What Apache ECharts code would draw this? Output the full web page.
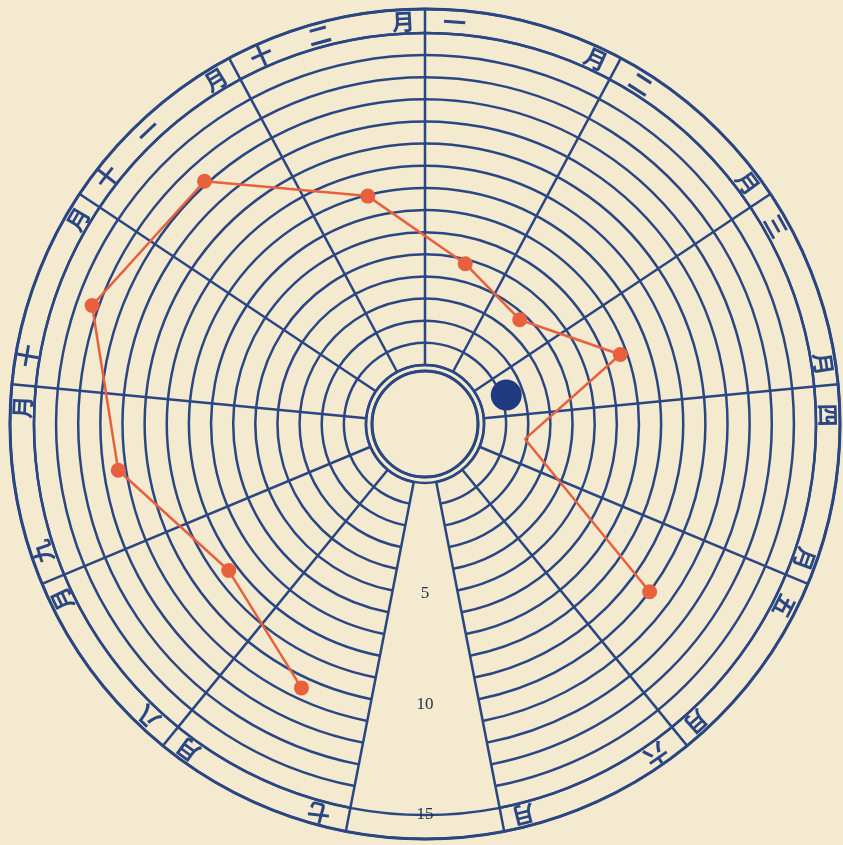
<!DOCTYPE html>
<html>
<head>
<meta charset="utf-8">
<script src="https://cdn.jsdelivr.net/npm/echarts@6/dist/echarts.min.js"></script>
<style>
html,body{margin:0;padding:0;background:#f3eacf;}
#c{width:843px;height:845px;}
</style>
</head>
<body>
<div id="c"></div>
<script>
// Months in the order the chart runs clockwise, starting just left of the blank wedge
const months = ['七月','八月','九月','十月','十一月','十二月','一月','二月','三月','四月','五月','六月'];
// Red line values (ring units), 六月 has no value
const values = [10.5, 8.4, 11.35, 13.3, 12.15, 7.95, 4.8, 3.7, 6.7, 1.9, 10.0, null];
// Months whose point is drawn without a dot
const noDotMonths = ['四月'];
// Large blue dot
const blueDotMonth = '三月';
const blueDotValue = 1.23;
// Radius labels shown in the blank wedge
const radiusTickValues = [5, 10, 15];
const radiusTickLabels = ['5', '10', '15'];

const BLUE = '#2a4683';
const RED = '#e8603e';
const CX = 425, CY = 424;
const R_IN = 53, R0 = 59, R15 = 391, R_OUT = 415;
const START = 259, END = -79;

// month label characters placed along the outer band
const charItems = [];
months.forEach((m, i) => {
  const num = m.replace('月', '');
  charItems.push({ t: num[0], a: i + 0.15 });
  if (num.length > 1) charItems.push({ t: num[1], a: i + 0.46 });
  charItems.push({ t: '月', a: i + 1 - 0.11 });
});

const lineData = values.map((v, i) => {
  if (v == null) return null;
  const item = { value: [v, i + 0.5] };
  if (noDotMonths.includes(months[i])) item.symbol = 'none';
  return item;
});

const gridLine = { show: true, lineStyle: { color: BLUE, width: 2.5 } };

const chart = echarts.init(document.getElementById('c'), null, { renderer: 'canvas' });
chart.setOption({
  backgroundColor: '#f3eacf',
  animation: false,
  polar: [
    { center: [CX, CY], radius: [R0, R15] },
    { center: [CX, CY], radius: [R15, R_OUT] },
    { center: [CX, CY], radius: [R_IN, R_OUT] },
    { center: [CX, CY], radius: [R0, R15] }
  ],
  angleAxis: [
    { polarIndex: 0, type: 'value', min: 0, max: 12, interval: 1, startAngle: START, endAngle: END, clockwise: true,
      axisLine: gridLine, axisTick: { show: false }, axisLabel: { show: false }, splitLine: gridLine },
    { polarIndex: 1, type: 'value', min: 0, max: 12, interval: 1, startAngle: START, endAngle: END, clockwise: true,
      axisLine: { show: false }, axisTick: { show: false }, axisLabel: { show: false }, splitLine: gridLine },
    { polarIndex: 2, type: 'value', min: 0, max: 1, startAngle: 90, clockwise: true,
      axisLine: { show: true, lineStyle: { color: BLUE, width: 3 } }, axisTick: { show: false }, axisLabel: { show: false }, splitLine: { show: false } },
    { polarIndex: 3, type: 'value', min: 0, max: 360, startAngle: 270, clockwise: true, show: false }
  ],
  radiusAxis: [
    { polarIndex: 0, type: 'value', min: 0, max: 15, interval: 1,
      axisLine: { show: false }, axisTick: { show: false }, axisLabel: { show: false }, splitLine: gridLine },
    { polarIndex: 1, type: 'value', min: 0, max: 1, show: false },
    { polarIndex: 2, type: 'value', min: 0, max: 1, interval: 1,
      axisLine: { show: false }, axisTick: { show: false }, axisLabel: { show: false }, splitLine: gridLine },
    { polarIndex: 3, type: 'value', min: 0, max: 15, show: false }
  ],
  series: [
    {
      type: 'line', coordinateSystem: 'polar', polarIndex: 0,
      data: lineData, connectNulls: false,
      symbol: 'circle', symbolSize: 15,
      lineStyle: { color: RED, width: 2.5 },
      itemStyle: { color: RED, opacity: 1 },
      z: 5
    },
    {
      type: 'scatter', coordinateSystem: 'polar', polarIndex: 0,
      data: [[blueDotValue, months.indexOf(blueDotMonth) + 0.5]],
      symbolSize: 31, itemStyle: { color: '#1f3a80', opacity: 1 }, z: 6
    },
    {
      type: 'custom', coordinateSystem: 'polar', polarIndex: 1,
      data: charItems.map(c => [0.5, c.a]),
      renderItem: function (params, api) {
        const p = api.coord([api.value(0), api.value(1)]);
        const cs = params.coordSys;
        const ang = Math.atan2(cs.cy - p[1], p[0] - cs.cx);
        return {
          type: 'text', x: p[0], y: p[1], rotation: ang - Math.PI / 2,
          style: { text: charItems[params.dataIndex].t, x: 0, y: 0, align: 'center', verticalAlign: 'middle',
            fill: BLUE, fontSize: 23, fontFamily: 'Noto Sans CJK JP', fontWeight: 'bold' }
        };
      },
      z: 7
    },
    {
      type: 'custom', coordinateSystem: 'polar', polarIndex: 3,
      data: radiusTickValues.map(v => [v, 0]),
      renderItem: function (params, api) {
        const p = api.coord([api.value(0), api.value(1)]);
        return {
          type: 'text', x: p[0], y: p[1],
          style: { text: radiusTickLabels[params.dataIndex], x: 0, y: 0, align: 'center', verticalAlign: 'middle',
            fill: '#25304a', fontSize: 17, fontFamily: 'Liberation Serif' }
        };
      },
      z: 7
    }
  ]
});
</script>
</body>
</html>
